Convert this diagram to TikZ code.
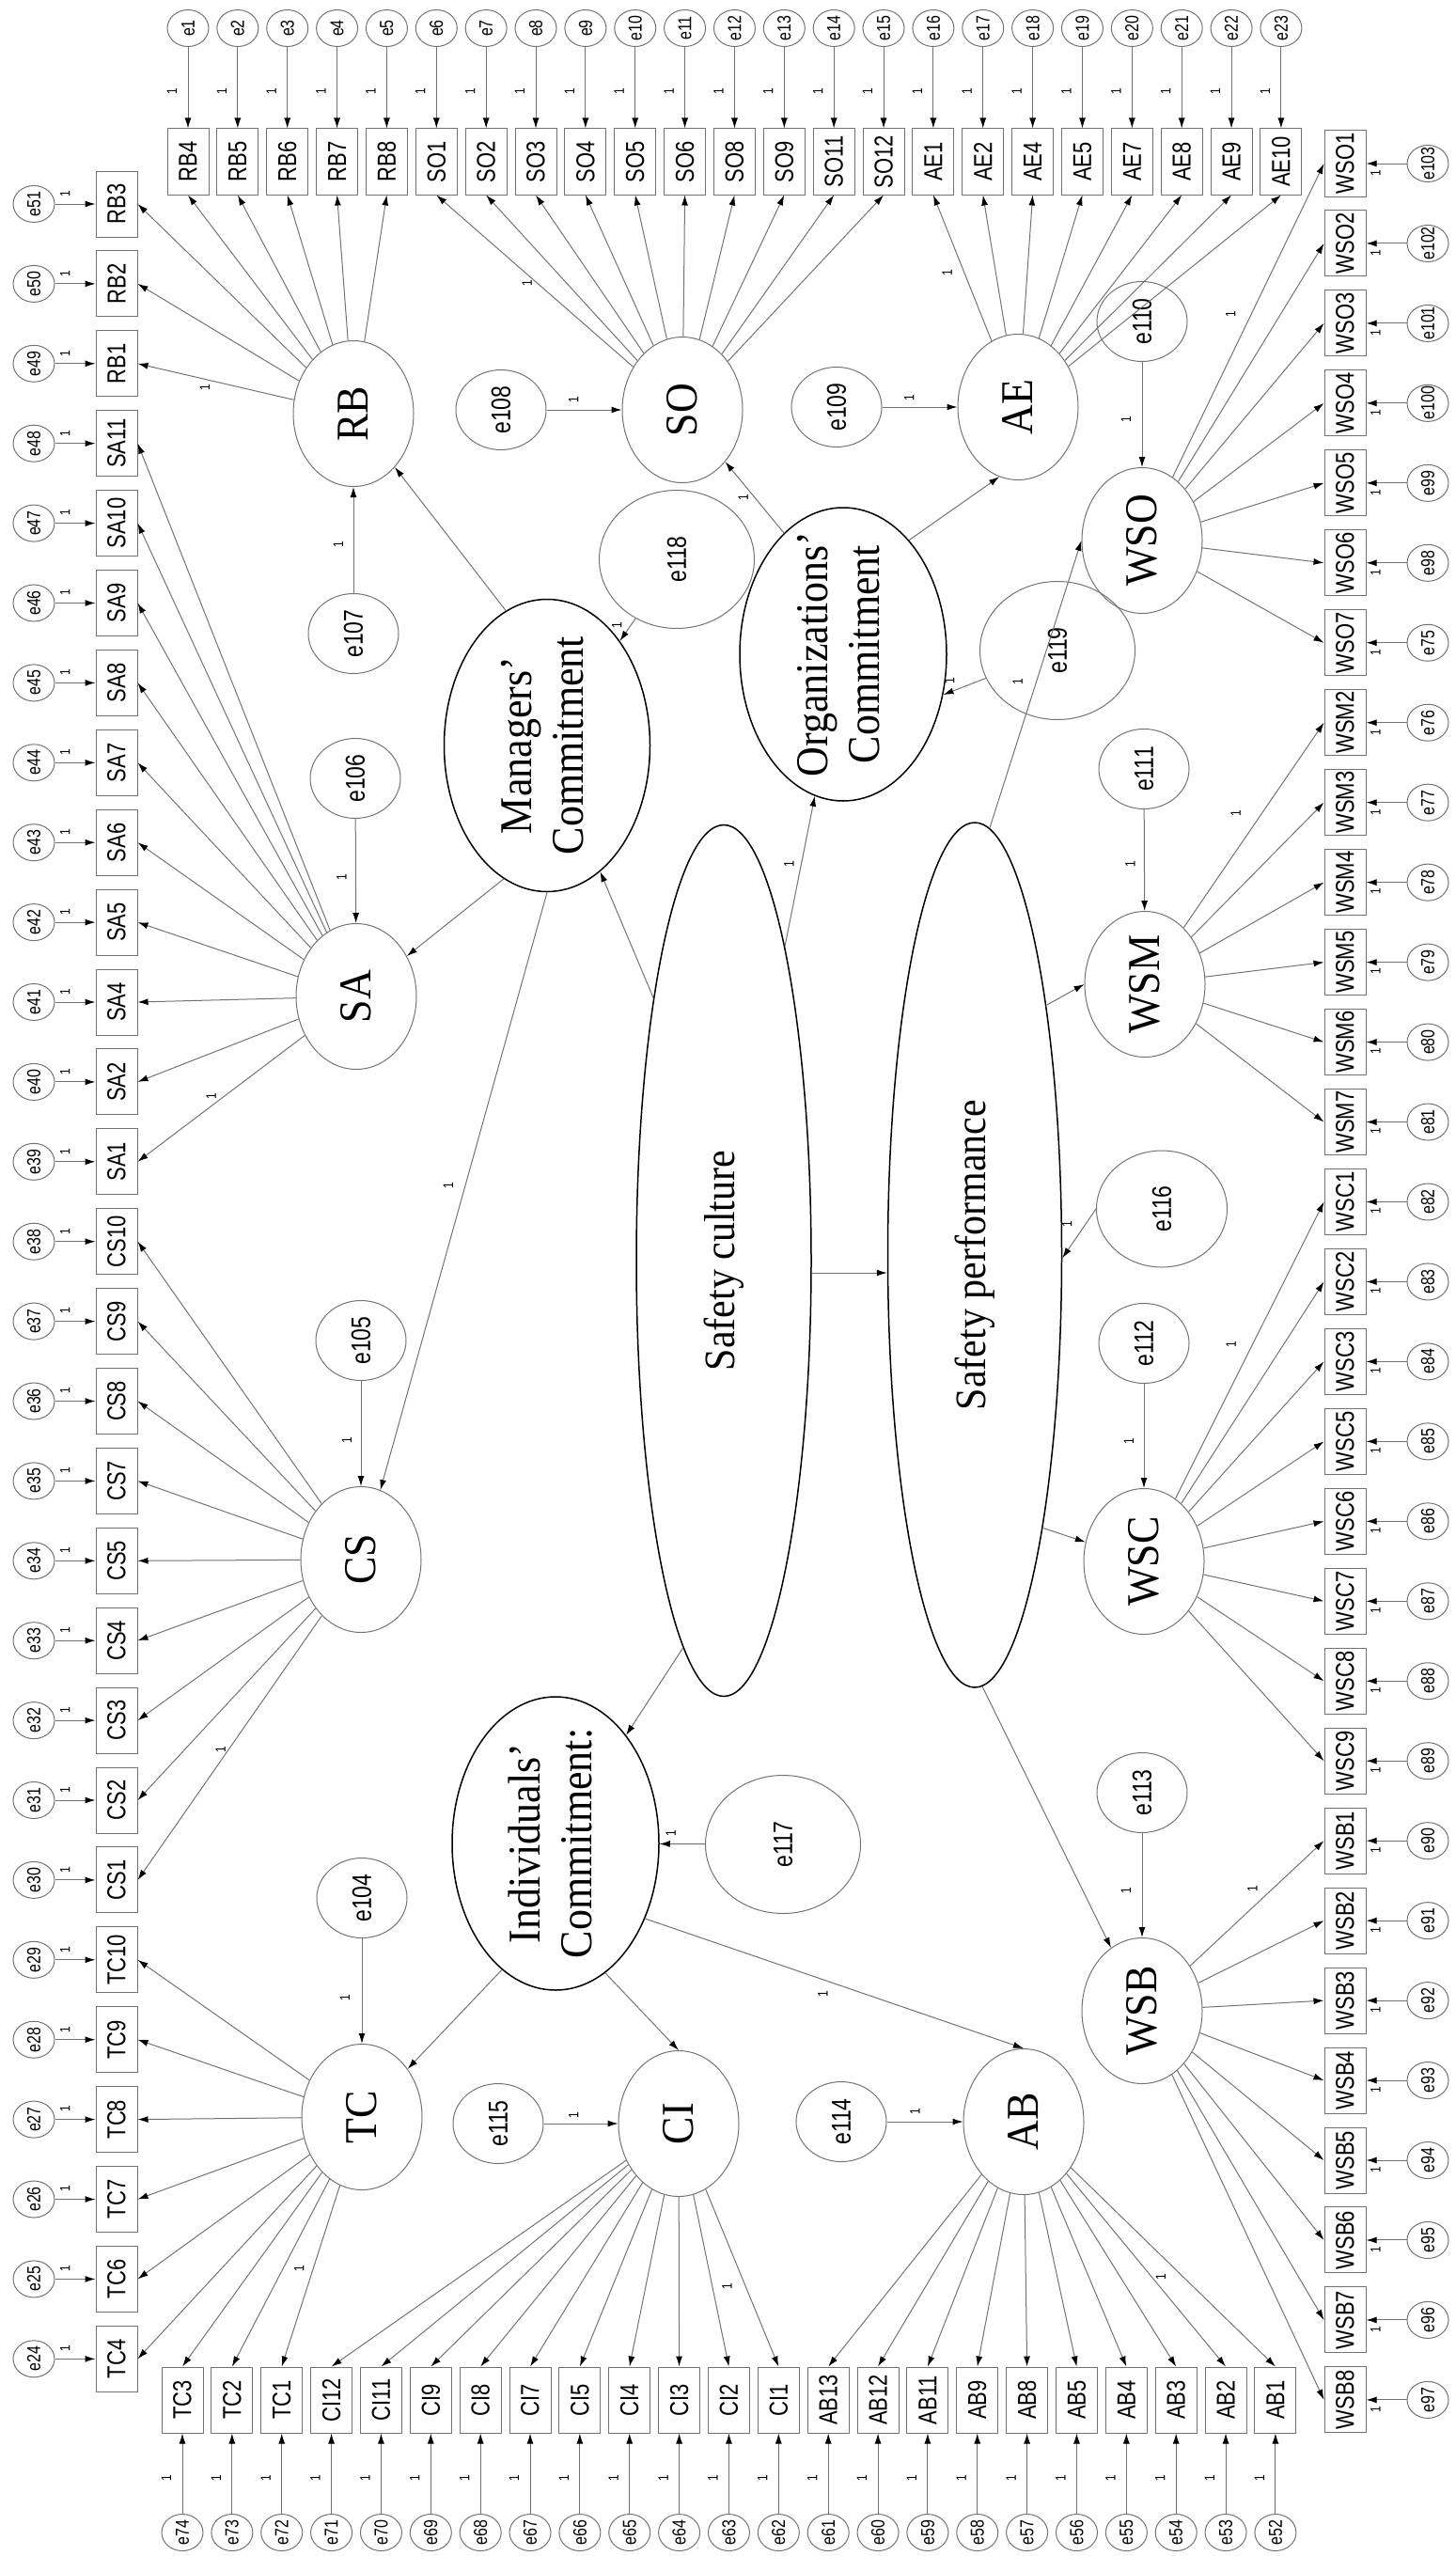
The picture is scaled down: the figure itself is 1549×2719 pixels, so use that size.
\documentclass[tikz,border=0pt]{standalone}
\usepackage{fontspec}
\setmainfont{Liberation Serif}
\setsansfont{Liberation Sans}
\usepackage{graphicx}
\usepackage{tikz}
\usetikzlibrary{arrows.meta, shapes.geometric}
\definecolor{ln}{gray}{0.45}
\newcommand{\vt}[2][1.25]{\rotatebox{90}{\makebox[0pt]{\scalebox{1}[#1]{#2}}}}

\begin{document}
\begin{tikzpicture}[x=1pt, y=-1pt,
                    every node/.style = {inner sep=0pt, text=black},
                    ind/.style = {draw=ln, line width=1pt, minimum width=44pt, minimum height=70pt,
                                  font=\sffamily\fontsize{22}{24}\selectfont},
                    err/.style = {ellipse, draw=ln, line width=1pt, minimum width=44pt, minimum height=39pt,
                                  font=\sffamily\fontsize{16}{18}\selectfont},
                    res/.style = {ellipse, draw=ln, line width=1pt, minimum width=96pt, minimum height=85pt,
                                  font=\sffamily\fontsize{23}{25}\selectfont},
                    bigres/.style = {res, minimum width=165pt, minimum height=147pt},
                    lat/.style = {ellipse, draw=ln, line width=1pt, minimum width=128pt, minimum height=155pt,
                                  font=\fontsize{44}{50}\selectfont},
                    con/.style = {ellipse, draw=black, line width=1.5pt, font=\fontsize{44}{50}\selectfont},
                    arr/.style = {draw=ln, line width=1pt, -{Latex[length=11pt, width=7pt, color=black]}},
                    one/.style = {font=\sffamily\fontsize{12}{12}\selectfont}]
  \useasboundingbox (0,0) rectangle (1549,2719);

  % indicators with their error terms
  \foreach \t [count=\i] in {RB4,RB5,RB6,RB7,RB8,SO1,SO2,SO3,SO4,SO5,SO6,SO8,SO9,SO11,SO12,AE1,AE2,AE4,AE5,AE7,AE8,AE9,AE10} {
    \node[ind] (\t) at ({200+52.86*(\i-1)}, 172) {\vt{\t}};
    \node[err] (e\i) at ({200+52.86*(\i-1)}, 30) {\vt{e\i}};
    \draw[arr] (e\i) -- node[one, pos=0.55, xshift=-17pt] {\vt{1}} (\t);
  }
  \foreach \t [count=\i] in {RB3,RB2,RB1,SA11,SA10,SA9,SA8,SA7,SA6,SA5,SA4,SA2,SA1,CS10,CS9,CS8,CS7,CS5,CS4,CS3,CS2,CS1,TC10,TC9,TC8,TC7,TC6,TC4} {
    \pgfmathtruncatemacro\k{52-\i}
    \node[ind] (\t) at (124, {217+84.9*(\i-1)}) {\vt{\t}};
    \node[err] (e\k) at (36, {217+84.9*(\i-1)}) {\vt{e\k}};
    \draw[arr] (e\k) -- node[one, pos=0.25, yshift=11pt] {\vt{1}} (\t);
  }
  \foreach \t [count=\i] in {TC3,TC2,TC1,CI12,CI11,CI9,CI8,CI7,CI5,CI4,CI3,CI2,CI1,AB13,AB12,AB11,AB9,AB8,AB5,AB4,AB3,AB2,AB1} {
    \pgfmathtruncatemacro\k{75-\i}
    \node[ind] (\t) at ({194+52.86*(\i-1)}, 2553) {\vt{\t}};
    \node[err] (e\k) at ({194+52.86*(\i-1)}, 2694) {\vt{e\k}};
    \draw[arr] (e\k) -- node[one, pos=0.44, xshift=-17pt] {\vt{1}} (\t);
  }
  \foreach \t/\k [count=\i] in {WSO1/103,WSO2/102,WSO3/101,WSO4/100,WSO5/99,WSO6/98,WSO7/75,
                                 WSM2/76,WSM3/77,WSM4/78,WSM5/79,WSM6/80,WSM7/81,
                                 WSC1/82,WSC2/83,WSC3/84,WSC5/85,WSC6/86,WSC7/87,WSC8/88,WSC9/89,
                                 WSB1/90,WSB2/91,WSB3/92,WSB4/93,WSB5/94,WSB6/95,WSB7/96,WSB8/97} {
    \node[ind] (\t) at (1431, {174+84.96*(\i-1)}) {\vt{\t}};
    \node[err] (e\k) at (1519, {174+84.96*(\i-1)}) {\vt{e\k}};
    \draw[arr] (e\k) -- node[one, pos=0.77, yshift=-10pt] {\vt{1}} (\t);
  }

  % first-order factors
  \node[lat] (RB)  at (376,440)   {\vt[1.1]{RB}};
  \node[lat] (SO)  at (726,436)   {\vt[1.1]{SO}};
  \node[lat] (AE)  at (1083,433)  {\vt[1.1]{AE}};
  \node[lat] (SA)  at (379,1060)  {\vt[1.1]{SA}};
  \node[lat] (CS)  at (384,1659)  {\vt[1.1]{CS}};
  \node[lat] (TC)  at (385,2252)  {\vt[1.1]{TC}};
  \node[lat] (CI)  at (722,2259)  {\vt[1.1]{CI}};
  \node[lat] (AB)  at (1089,2257) {\vt[1.1]{AB}};
  \node[lat] (WSO) at (1215,575)  {\vt[1.1]{WSO}};
  \node[lat] (WSM) at (1218,1047) {\vt[1.1]{WSM}};
  \node[lat] (WSC) at (1217,1661) {\vt[1.1]{WSC}};
  \node[lat] (WSB) at (1215,2139) {\vt[1.1]{WSB}};

  % higher-order factors
  \node[con, minimum width=219pt, minimum height=311pt] (MC) at (582,793)
       {\vt[1.1]{\begin{tabular}{@{}c@{}}Managers'\\Commitment\end{tabular}}};
  \node[con, minimum width=220pt, minimum height=312pt] (OC) at (897,696)
       {\vt[1.1]{\begin{tabular}{@{}c@{}}Organizations'\\Commitment\end{tabular}}};
  \node[con, minimum width=220pt, minimum height=312pt] (IC) at (591,1961)
       {\vt[1.1]{\begin{tabular}{@{}c@{}}Individuals'\\Commitment:\end{tabular}}};
  \node[con, minimum width=186pt, minimum height=927pt, font=\fontsize{42}{48}\selectfont] (SC) at (770,1341)
       {\vt[1.1]{Safety culture}};
  \node[con, minimum width=185pt, minimum height=920pt, font=\fontsize{42}{48}\selectfont] (SP) at (1037,1335)
       {\vt[1.1]{Safety performance}};

  % residuals
  \node[res] (e107) at (376,674)   {\vt{e107}};
  \node[res] (e106) at (378,828)   {\vt{e106}};
  \node[res] (e105) at (384,1426)  {\vt{e105}};
  \node[res] (e104) at (385,2019)  {\vt{e104}};
  \node[res] (e108) at (533,436)   {\vt{e108}};
  \node[res] (e109) at (890,433)   {\vt{e109}};
  \node[res] (e110) at (1215,342)  {\vt{e110}};
  \node[res] (e111) at (1217,818)  {\vt{e111}};
  \node[res] (e112) at (1217,1429) {\vt{e112}};
  \node[res] (e113) at (1215,1907) {\vt{e113}};
  \node[res] (e114) at (895,2257)  {\vt{e114}};
  \node[res] (e115) at (530,2259)  {\vt{e115}};
  \node[bigres] (e118) at (720,595)  {\vt{e118}};
  \node[bigres] (e119) at (1125,692) {\vt{e119}};
  \node[bigres] (e117) at (833,1962) {\vt{e117}};
  \node[res, minimum width=139pt, minimum height=124pt] (e116) at (1236,1286) {\vt{e116}};

  % loadings
  \draw[arr] (RB) -- node[one, pos=0.57, yshift=-9pt] {\vt{1}} (RB1.east);
  \foreach \t in {RB2,RB3} \draw[arr] (RB) -- (\t.east);
  \foreach \t in {RB4,RB5,RB6,RB7,RB8} \draw[arr] (RB) -- (\t.south);
  \draw[arr] (SO) -- node[one, pos=0.54, yshift=-10pt] {\vt{1}} (SO1.south);
  \foreach \t in {SO2,SO3,SO4,SO5,SO6,SO8,SO9,SO11,SO12} \draw[arr] (SO) -- (\t.south);
  \draw[arr] (AE) -- node[one, pos=0.47, xshift=-18pt] {\vt{1}} (AE1.south);
  \foreach \t in {AE2,AE4,AE5,AE7,AE8,AE9,AE10} \draw[arr] (AE) -- (\t.south);
  \draw[arr] (SA) -- node[one, pos=0.56, yshift=10pt] {\vt{1}} (SA1.east);
  \foreach \t in {SA2,SA4,SA5,SA6,SA7,SA8,SA9,SA10,SA11} \draw[arr] (SA) -- (\t.east);
  \draw[arr] (CS) -- node[one, pos=0.55, yshift=12pt] {\vt{1}} (CS1.east);
  \foreach \t in {CS2,CS3,CS4,CS5,CS7,CS8,CS9,CS10} \draw[arr] (CS) -- (\t.east);
  \draw[arr] (TC) -- node[one, pos=0.46, xshift=-15pt] {\vt{1}} (TC1.north);
  \foreach \t in {TC2,TC3} \draw[arr] (TC) -- (\t.north);
  \foreach \t in {TC4,TC6,TC7,TC8,TC9,TC10} \draw[arr] (TC) -- (\t.east);
  \draw[arr] (CI) -- node[one, pos=0.55, xshift=-20pt] {\vt{1}} (CI1.north);
  \foreach \t in {CI2,CI3,CI4,CI5,CI7,CI8,CI9,CI11,CI12} \draw[arr] (CI) -- (\t.north);
  \draw[arr] (AB) -- node[one, pos=0.55, xshift=-24pt] {\vt{1}} (AB1.north);
  \foreach \t in {AB2,AB3,AB4,AB5,AB8,AB9,AB11,AB12,AB13} \draw[arr] (AB) -- (\t.north);
  \draw[arr] (WSO) -- node[one, pos=0.52, xshift=-22pt] {\vt{1}} (WSO1.west);
  \foreach \t in {WSO2,WSO3,WSO4,WSO5,WSO6,WSO7} \draw[arr] (WSO) -- (\t.west);
  \draw[arr] (WSM) -- node[one, pos=0.56, xshift=-28pt] {\vt{1}} (WSM2.west);
  \foreach \t in {WSM3,WSM4,WSM5,WSM6,WSM7} \draw[arr] (WSM) -- (\t.west);
  \draw[arr] (WSC) -- node[one, pos=0.52, xshift=-23pt] {\vt{1}} (WSC1.west);
  \foreach \t in {WSC2,WSC3,WSC5,WSC6,WSC7,WSC8,WSC9} \draw[arr] (WSC) -- (\t.west);
  \draw[arr] (WSB) -- node[one, pos=0.62, xshift=-22pt] {\vt{1}} (WSB1.west);
  \foreach \t in {WSB2,WSB3,WSB4,WSB5,WSB6,WSB7,WSB8} \draw[arr] (WSB) -- (\t.west);

  % residual paths
  \draw[arr] (e107) -- node[one, pos=0.46, xshift=-16pt] {\vt{1}} (RB);
  \draw[arr] (e106) -- node[one, pos=0.56, xshift=-15pt] {\vt{1}} (SA);
  \draw[arr] (e105) -- node[one, pos=0.56, xshift=-15pt] {\vt{1}} (CS);
  \draw[arr] (e104) -- node[one, pos=0.56, xshift=-18pt] {\vt{1}} (TC);
  \draw[arr] (e108) -- node[one, pos=0.36, yshift=11pt] {\vt{1}} (SO);
  \draw[arr] (e109) -- node[one, pos=0.36, yshift=10pt] {\vt{1}} (AE);
  \draw[arr] (e115) -- node[one, pos=0.40, yshift=9pt] {\vt{1}} (CI);
  \draw[arr] (e114) -- node[one, pos=0.37, yshift=11pt] {\vt{1}} (AB);
  \draw[arr] (e110) -- node[one, pos=0.55, xshift=-17pt] {\vt{1}} (WSO);
  \draw[arr] (e111) -- node[one, pos=0.54, xshift=-15pt] {\vt{1}} (WSM);
  \draw[arr] (e112) -- node[one, pos=0.55, xshift=-16pt] {\vt{1}} (WSC);
  \draw[arr] (e113) -- node[one, pos=0.55, xshift=-17pt] {\vt{1}} (WSB);
  \draw[arr] (e118) -- node[one, pos=0.30, xshift=-15pt] {\vt{1}} (MC);
  \draw[arr] (e119) -- node[one, pos=0.85, yshift=12pt] {\vt{1}} (OC.338);
  \draw[arr] (e117) -- node[one, pos=0.75, yshift=11pt] {\vt{1}} (IC);
  \draw[arr] (e116.west) -- node[one, pos=0.30, xshift=-20pt] {\vt{1}} (SP.358);

  % structural paths
  \draw[arr] (SC.105) -- (MC);
  \draw[arr] (SC.79) -- node[one, pos=0.55, xshift=-13pt] {\vt{1}} (OC);
  \draw[arr] (SC.264) -- (IC);
  \draw[arr] ([yshift=-13pt]SC.east) -- ([yshift=-19pt]SP.west);
  \draw[arr] (MC.107) -- (RB);
  \draw[arr] (MC.252) -- (SA);
  \draw[arr] (MC.south) -- node[one, pos=0.49, xshift=-18pt] {\vt{1}} (CS);
  \draw[arr] (OC.116) -- node[one, pos=0.5, xshift=-12pt] {\vt{1}} (SO);
  \draw[arr] (OC.60) -- (AE.255);
  \draw[arr] (IC.247) -- (TC);
  \draw[arr] (IC.291) -- (CI.north);
  \draw[arr] (IC.320) -- node[one, pos=0.47, yshift=-15pt] {\vt{1}} (AB.north);
  \draw[arr] (SP.88) -- node[one, pos=0.51, xshift=-20pt] {\vt{1}} (WSO.west);
  \draw[arr] (SP.74) -- (WSM.west);
  \draw[arr] (SP.284) -- (WSC);
  \draw[arr] (SP.271) -- (WSB);
\end{tikzpicture}
\end{document}
